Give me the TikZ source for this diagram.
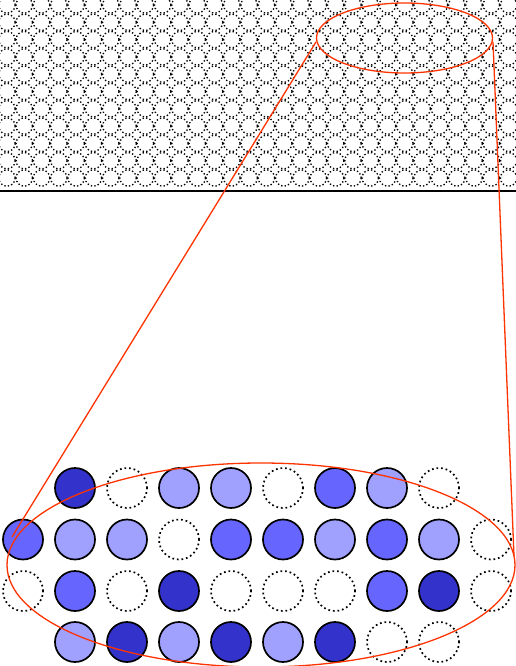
\documentclass[tikz,border=0pt]{standalone}
\definecolor{dk}{RGB}{51,51,204}
\definecolor{md}{RGB}{102,102,255}
\definecolor{lt}{RGB}{160,160,255}
\definecolor{zoomred}{RGB}{255,51,0}
\begin{document}
\begin{tikzpicture}[x=1pt,y=-1pt,
  site/.style={circle,minimum size=40pt,inner sep=0pt,line width=1.7pt,draw=black},
  dkS/.style={site,fill=dk},
  mdS/.style={site,fill=md},
  ltS/.style={site,fill=lt},
  emS/.style={site,dash pattern=on 1.7pt off 2.9pt},
  tinysite/.style={line width=1.35pt,dash pattern=on 1.35pt off 2.2pt},
  zoomline/.style={draw=zoomred,line width=1.3pt}]
\useasboundingbox (0,0) rectangle (516,666);
% top lattice
\begin{scope}
  \clip (0,0) rectangle (516,191);
  \foreach \i in {0,...,29}
    \foreach \j in {0,...,10}
      \draw[tinysite] ({7+17.3*\i},{5+17.3*\j}) circle[radius=8.2];
\end{scope}
\draw[line width=1.5pt] (0,191) -- (516,191);
% bottom sites
\foreach \i/\t in {1/dkS,2/emS,3/ltS,4/ltS,5/emS,6/mdS,7/ltS,8/emS}
  \node[\t] (s-1-\i) at ({23+52*\i},488) {};
\foreach \i/\t in {0/mdS,1/ltS,2/ltS,3/emS,4/mdS,5/mdS,6/ltS,7/mdS,8/ltS,9/emS}
  \node[\t] (s-2-\i) at ({23+52*\i},539.5) {};
\foreach \i/\t in {0/emS,1/mdS,2/emS,3/dkS,4/emS,5/emS,6/emS,7/mdS,8/dkS,9/emS}
  \node[\t] (s-3-\i) at ({23+52*\i},591) {};
\foreach \i/\t in {1/ltS,2/dkS,3/ltS,4/dkS,5/ltS,6/dkS,7/emS,8/emS}
  \node[\t] (s-4-\i) at ({23+52*\i},642) {};
% zoom marks
\draw[zoomline] (404.5,38) ellipse[x radius=88,y radius=35];
\draw[zoomline] (261,565) ellipse[x radius=254,y radius=102];
\coordinate (tl) at (316,42);
\coordinate (tr) at (493,42);
\coordinate (bl) at (12,537);
\coordinate (br) at (514,556);
\draw[zoomline] (tl) -- (bl);
\draw[zoomline] (tr) -- (br);
\end{tikzpicture}
\end{document}
